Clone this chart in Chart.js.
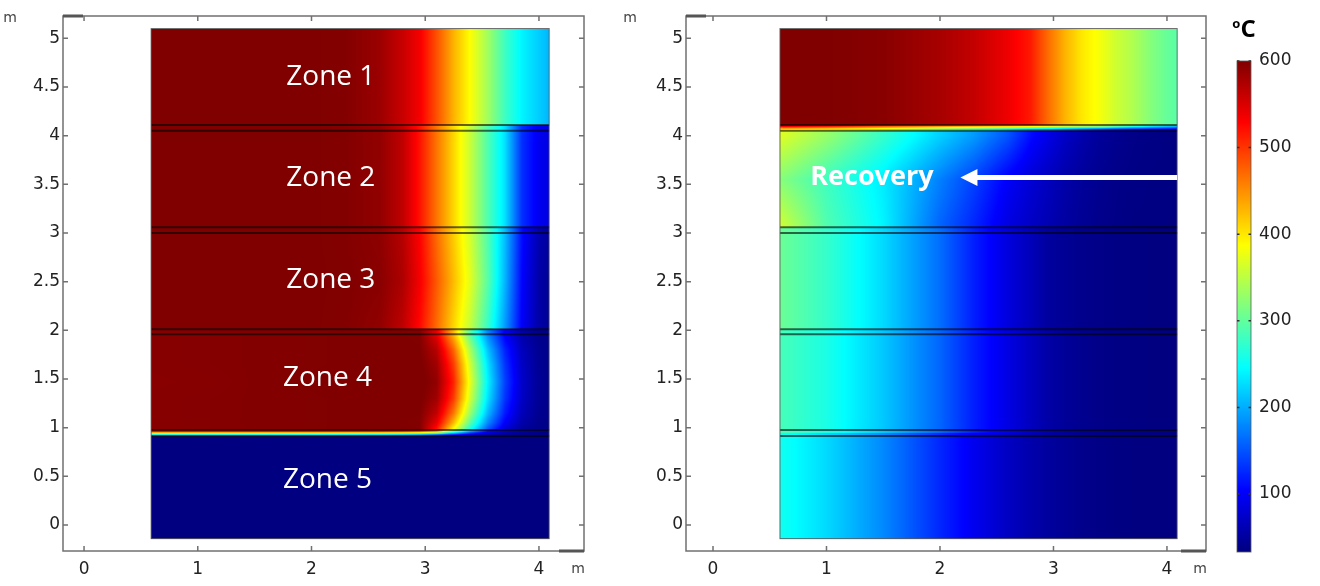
<!DOCTYPE html>
<html>
<head>
<meta charset="utf-8">
<script src="https://cdn.jsdelivr.net/npm/chart.js@4.4.0/dist/chart.umd.min.js"></script>
<style>
    body { margin: 0; background: #fff; }
    #wrap { position: relative; width: 1320px; height: 586px; }
    #wrap canvas { position: absolute; top: 0; }
</style>
</head>
<body>
<div id="wrap">
    <canvas id="leftChart" width="600" height="586" style="left:0"></canvas>
    <canvas id="rightChart" width="600" height="586" style="left:620px"></canvas>
    <canvas id="barChart" width="100" height="586" style="left:1220px"></canvas>
</div>
<script>
// Axis ticks
const xTicks = [0, 1, 2, 3, 4];
const yTicks = [0, 0.5, 1, 1.5, 2, 2.5, 3, 3.5, 4, 4.5, 5];
const barTicks = [100, 200, 300, 400, 500, 600];
const tempMin = 33;
const tempMax = 600;

// Sampling columns (m) shared by every row below
const xCols = [0.59, 1.0, 1.5, 2.0, 2.3, 2.6, 2.8, 2.95, 3.1, 3.25, 3.4, 3.55, 3.7, 3.85, 4.0, 4.09];

// Zone boundary layers (m)
const layerEdges = [4.11, 4.05, 3.06, 3.0, 2.01, 1.96, 0.975, 0.915];

// Left panel temperatures (degC)
const leftZone1 = [600, 600, 600, 600, 598, 585, 560, 535, 485, 430, 385, 335, 280, 240, 218, 205];
const leftZone2 = [600, 600, 600, 600, 598, 590, 565, 520, 465, 410, 355, 290, 230, 130, 95, 88];
const leftZone3Top = [600, 600, 600, 600, 598, 592, 570, 530, 470, 415, 360, 290, 210, 110, 60, 50];
const leftZone3Mid = [600, 600, 600, 600, 599, 595, 575, 535, 480, 425, 370, 295, 205, 105, 55, 45];
const leftZone3Bot = [600, 600, 600, 600, 598, 590, 565, 525, 470, 410, 350, 275, 190, 100, 55, 45];
// zone 4 rows, from y = 0.975 up to y = 1.96
const leftZone4Y = [0.975, 1.05, 1.15, 1.3, 1.47, 1.65, 1.8, 1.9, 1.96];
const leftZone4R0 = [596, 597, 598, 599, 600, 600, 600, 600, 515, 379, 249, 147, 79, 47, 40, 38];
const leftZone4R1 = [596, 597, 598, 599, 600, 600, 600, 598, 542, 426, 292, 180, 101, 57, 40, 38];
const leftZone4R2 = [596, 597, 598, 599, 600, 600, 600, 600, 563, 463, 327, 207, 118, 65, 42, 39];
const leftZone4R3 = [596, 597, 598, 599, 600, 602, 604, 603, 582, 496, 357, 230, 133, 72, 44, 40];
const leftZone4R4 = [595, 596, 598, 600, 602, 606, 608, 606, 590, 510, 370, 240, 140, 75, 45, 40];
const leftZone4R5 = [596, 597, 598, 599, 600, 602, 604, 603, 582, 496, 357, 230, 133, 72, 44, 40];
const leftZone4R6 = [596, 597, 598, 599, 600, 600, 600, 600, 569, 473, 335, 213, 123, 67, 43, 40];
const leftZone4R7 = [596, 597, 598, 599, 600, 600, 600, 599, 553, 445, 309, 193, 109, 61, 41, 40];
const leftZone4R8 = [596, 597, 598, 599, 600, 600, 600, 598, 542, 426, 292, 180, 101, 57, 40, 40];
const leftLayerTop = [560, 560, 560, 558, 556, 552, 545, 530, 480, 330, 200, 110, 70, 50, 40, 36];
const leftLayerBot = [220, 215, 210, 205, 200, 195, 185, 170, 140, 100, 70, 50, 40, 36, 34, 33];
const leftZone5 = [33, 33, 33, 33, 33, 33, 33, 33, 33, 33, 33, 33, 33, 33, 33, 33];

// Right panel temperatures (degC)
const rightZone1 = [600, 600, 595, 578, 562, 538, 515, 470, 430, 400, 383, 360, 343, 320, 302, 295];
const rightLayerTop = [560, 540, 500, 470, 450, 435, 425, 410, 390, 370, 350, 320, 290, 260, 235, 225];
const rightLayerBot = [380, 360, 330, 290, 260, 220, 190, 170, 150, 130, 115, 100, 90, 80, 75, 70];
const rightZone2Top = [370, 330, 275, 220, 190, 150, 110, 90, 72, 58, 48, 42, 38, 36, 35, 35];
const rightZone2Mid = [320, 280, 235, 175, 140, 100, 80, 68, 56, 48, 42, 38, 36, 35, 35, 35];
const rightZone2Bot = [360, 290, 240, 160, 125, 88, 72, 62, 52, 45, 40, 37, 35, 35, 34, 34];
const rightZone3 = [305, 275, 225, 165, 120, 85, 65, 50, 45, 40, 38, 36, 35, 34, 34, 34];
const rightZone4 = [285, 260, 215, 160, 120, 88, 68, 55, 47, 42, 38, 36, 35, 34, 34, 34];
const rightZone5 = [255, 225, 180, 125, 95, 70, 58, 50, 45, 40, 37, 35, 34, 34, 34, 34];

// Labels
const zoneNames = ['Zone 1', 'Zone 2', 'Zone 3', 'Zone 4', 'Zone 5'];
const zoneLabelX = [2.17, 2.17, 2.17, 2.14, 2.14];
const zoneLabelY = [4.6, 3.56, 2.52, 1.51, 0.46];
const recoveryText = 'Recovery';
const recoveryPos = [1.40, 3.57];
const arrowFrom = 4.09;
const arrowTo = 2.18;

// Bands of the field: y range, row heights and the rows
const panels = {
    leftChart: {
        bands: [
            { y0: 4.11, y1: 5.1, ys: [4.6], rows: [leftZone1] },
            { y0: 3.06, y1: 4.11, ys: [3.5], rows: [leftZone2] },
            { y0: 2.01, y1: 3.06, ys: [2.01, 2.5, 3.0], rows: [leftZone3Bot, leftZone3Mid, leftZone3Top] },
            { y0: 0.975, y1: 2.01, ys: leftZone4Y,
              rows: [leftZone4R0, leftZone4R1, leftZone4R2, leftZone4R3, leftZone4R4, leftZone4R5, leftZone4R6, leftZone4R7, leftZone4R8] },
            { y0: 0.915, y1: 0.975, ys: [0.925, 0.965], rows: [leftLayerBot, leftLayerTop] },
            { y0: -0.14, y1: 0.915, ys: [0.4], rows: [leftZone5] }
        ],
        zoneLabels: true
    },
    rightChart: {
        bands: [
            { y0: 4.11, y1: 5.1, ys: [4.6], rows: [rightZone1] },
            { y0: 4.05, y1: 4.11, ys: [4.06, 4.1], rows: [rightLayerBot, rightLayerTop] },
            { y0: 3.06, y1: 4.05, ys: [3.1, 3.55, 4.0], rows: [rightZone2Bot, rightZone2Mid, rightZone2Top] },
            { y0: 2.01, y1: 3.06, ys: [2.5], rows: [rightZone3] },
            { y0: 0.945, y1: 2.01, ys: [1.5], rows: [rightZone4] },
            { y0: -0.14, y1: 0.945, ys: [0.4], rows: [rightZone5] }
        ],
        recovery: true
    }
};

// Jet colormap
function jet(t) {
    const c = v => Math.max(0, Math.min(1, v));
    return [
        Math.round(255 * c(1.5 - Math.abs(4 * t - 3))),
        Math.round(255 * c(1.5 - Math.abs(4 * t - 2))),
        Math.round(255 * c(1.5 - Math.abs(4 * t - 1)))
    ];
}

function locate(arr, v) {
    if (arr.length < 2 || v <= arr[0]) return [0, 0];
    for (let i = 0; i < arr.length - 1; i++) {
        if (v <= arr[i + 1]) return [i, (v - arr[i]) / (arr[i + 1] - arr[i])];
    }
    return [arr.length - 2, 1];
}

function paintBand(ctx, sx, sy, band) {
    const left = Math.round(sx.getPixelForValue(xCols[0]));
    const right = Math.round(sx.getPixelForValue(xCols[xCols.length - 1]));
    const top = Math.round(sy.getPixelForValue(band.y1));
    const bottom = Math.round(sy.getPixelForValue(band.y0));
    const w = right - left, h = bottom - top;
    if (w <= 0 || h <= 0) return;
    const img = ctx.createImageData(w, h);
    const cols = [];
    for (let i = 0; i < w; i++) cols.push(locate(xCols, sx.getValueForPixel(left + i + 0.5)));
    const n = xCols.length;
    for (let j = 0; j < h; j++) {
        const [rj, rf] = locate(band.ys, sy.getValueForPixel(top + j + 0.5));
        const r0 = band.rows[rj];
        const r1 = band.rows[Math.min(rj + 1, band.rows.length - 1)];
        for (let i = 0; i < w; i++) {
            const [ci, cf] = cols[i];
            const c1 = Math.min(ci + 1, n - 1);
            const a = r0[ci] + (r0[c1] - r0[ci]) * cf;
            const b = r1[ci] + (r1[c1] - r1[ci]) * cf;
            const v = a + (b - a) * rf;
            const rgb = jet(Math.max(0, Math.min(1, (v - tempMin) / (tempMax - tempMin))));
            const k = (j * w + i) * 4;
            img.data[k] = rgb[0];
            img.data[k + 1] = rgb[1];
            img.data[k + 2] = rgb[2];
            img.data[k + 3] = 255;
        }
    }
    ctx.putImageData(img, left, top);
}

function drawFrame(ctx, area, sx, sy) {
    ctx.save();
    ctx.strokeStyle = '#707070';
    ctx.lineWidth = 1.5;
    ctx.strokeRect(area.left, area.top, area.right - area.left, area.bottom - area.top);
    ctx.beginPath();
    xTicks.forEach(v => {
        const px = sx.getPixelForValue(v);
        ctx.moveTo(px, area.bottom); ctx.lineTo(px, area.bottom - 5);
        ctx.moveTo(px, area.top); ctx.lineTo(px, area.top + 5);
    });
    yTicks.forEach(v => {
        const py = sy.getPixelForValue(v);
        ctx.moveTo(area.left, py); ctx.lineTo(area.left + 5, py);
        ctx.moveTo(area.right, py); ctx.lineTo(area.right - 5, py);
    });
    ctx.stroke();
    // darker corner pieces
    ctx.strokeStyle = '#555';
    ctx.lineWidth = 3;
    ctx.beginPath();
    ctx.moveTo(area.left, area.top); ctx.lineTo(area.left + 20, area.top);
    ctx.moveTo(area.right - 25, area.bottom); ctx.lineTo(area.right, area.bottom);
    ctx.stroke();
    // unit labels
    ctx.fillStyle = '#444';
    ctx.font = '14px "DejaVu Sans"';
    ctx.textAlign = 'center';
    ctx.textBaseline = 'middle';
    ctx.fillText('m', 10, area.top + 2);
    ctx.fillText('m', area.right - 6, area.bottom + 18);
    ctx.restore();
}

const fieldPlugin = {
    id: 'field',
    beforeDatasetsDraw(chart) {
        const cfg = panels[chart.canvas.id];
        const ctx = chart.ctx;
        const sx = chart.scales.x, sy = chart.scales.y;
        cfg.bands.forEach(b => paintBand(ctx, sx, sy, b));

        const left = sx.getPixelForValue(xCols[0]);
        const right = sx.getPixelForValue(xCols[xCols.length - 1]);
        const top = sy.getPixelForValue(5.1), bottom = sy.getPixelForValue(-0.14);
        ctx.save();
        ctx.strokeStyle = 'rgba(0,0,0,0.6)';
        ctx.lineWidth = 2;
        ctx.beginPath();
        layerEdges.forEach(e => {
            const py = sy.getPixelForValue(e);
            ctx.moveTo(left, py); ctx.lineTo(right, py);
        });
        ctx.stroke();
        ctx.strokeStyle = 'rgba(90,90,90,0.9)';
        ctx.lineWidth = 1;
        ctx.strokeRect(left, top, right - left, bottom - top);

        ctx.fillStyle = '#fff';
        ctx.textAlign = 'center';
        ctx.textBaseline = 'middle';
        if (cfg.zoneLabels) {
            ctx.font = '28px "Open Sans"';
            zoneNames.forEach((name, i) => {
                ctx.fillText(name, sx.getPixelForValue(zoneLabelX[i]), sy.getPixelForValue(zoneLabelY[i]));
            });
        }
        if (cfg.recovery) {
            ctx.font = 'bold 27px "Open Sans"';
            const py = sy.getPixelForValue(recoveryPos[1]);
            ctx.fillText(recoveryText, sx.getPixelForValue(recoveryPos[0]), py);
            const tip = sx.getPixelForValue(arrowTo);
            const tail = sx.getPixelForValue(arrowFrom);
            ctx.strokeStyle = '#fff';
            ctx.lineWidth = 5;
            ctx.beginPath();
            ctx.moveTo(tail, py); ctx.lineTo(tip + 12, py);
            ctx.stroke();
            ctx.beginPath();
            ctx.moveTo(tip, py);
            ctx.lineTo(tip + 17, py - 8.5);
            ctx.lineTo(tip + 17, py + 8.5);
            ctx.closePath();
            ctx.fill();
        }
        ctx.restore();
    },
    afterDraw(chart) {
        drawFrame(chart.ctx, chart.chartArea, chart.scales.x, chart.scales.y);
    }
};

const tickFont = { family: 'DejaVu Sans', size: 17 };

function panelChart(id, xMin, xMax, axisWidth, padRight) {
    const ctx = document.getElementById(id).getContext('2d');
    return new Chart(ctx, {
        type: 'scatter',
        data: { datasets: [{ data: [] }] },
        plugins: [fieldPlugin],
        options: {
            responsive: false,
            animation: false,
            devicePixelRatio: 1,
            layout: { padding: { top: 16, right: padRight, left: 0, bottom: 0 } },
            plugins: { legend: { display: false }, tooltip: { enabled: false } },
            scales: {
                x: {
                    type: 'linear',
                    min: xMin,
                    max: xMax,
                    grid: { display: false, drawTicks: false },
                    border: { display: false },
                    ticks: { color: '#222', font: tickFont, padding: 8, maxRotation: 0, callback: v => String(v) },
                    afterBuildTicks: s => { s.ticks = xTicks.map(v => ({ value: v })); },
                    afterFit: s => { s.height = 35; }
                },
                y: {
                    type: 'linear',
                    min: -0.267,
                    max: 5.229,
                    grid: { display: false, drawTicks: false },
                    border: { display: false },
                    ticks: { color: '#222', font: tickFont, padding: 3, callback: v => String(v) },
                    afterBuildTicks: s => { s.ticks = yTicks.map(v => ({ value: v })); },
                    afterFit: s => { s.width = axisWidth; }
                }
            }
        }
    });
}

const colorBarPlugin = {
    id: 'colorBar',
    beforeDatasetsDraw(chart) {
        const ctx = chart.ctx;
        const a = chart.chartArea;
        const sy = chart.scales.y;
        for (let py = Math.round(a.top); py < Math.round(a.bottom); py++) {
            const v = sy.getValueForPixel(py + 0.5);
            const rgb = jet(Math.max(0, Math.min(1, (v - tempMin) / (tempMax - tempMin))));
            ctx.fillStyle = 'rgb(' + rgb.join(',') + ')';
            ctx.fillRect(a.left, py, a.right - a.left, 1);
        }
        ctx.save();
        ctx.strokeStyle = 'rgba(90,90,90,0.8)';
        ctx.lineWidth = 1;
        ctx.strokeRect(a.left, a.top, a.right - a.left, a.bottom - a.top);
        ctx.strokeStyle = '#333';
        ctx.lineWidth = 1.5;
        ctx.beginPath();
        barTicks.forEach(v => {
            const py = sy.getPixelForValue(v);
            ctx.moveTo(a.left, py); ctx.lineTo(a.left + 2.5, py);
            ctx.moveTo(a.right, py); ctx.lineTo(a.right - 2.5, py);
        });
        ctx.stroke();
        // unit title
        const cx = (a.left + a.right) / 2;
        ctx.fillStyle = '#000';
        ctx.textBaseline = 'alphabetic';
        ctx.textAlign = 'left';
        ctx.font = 'bold 24px "Open Sans"';
        const cw = ctx.measureText('C').width;
        ctx.font = 'bold 13px "Open Sans"';
        const ow = ctx.measureText('o').width;
        const x0 = cx - (cw + ow) / 2;
        ctx.fillText('o', x0, 28);
        ctx.font = 'bold 24px "Open Sans"';
        ctx.fillText('C', x0 + ow, 37);
        ctx.restore();
    }
};

function barChart() {
    const ctx = document.getElementById('barChart').getContext('2d');
    return new Chart(ctx, {
        type: 'scatter',
        data: { datasets: [{ data: [] }] },
        plugins: [colorBarPlugin],
        options: {
            responsive: false,
            animation: false,
            devicePixelRatio: 1,
            layout: { padding: { top: 61, bottom: 34, left: 17, right: 0 } },
            plugins: { legend: { display: false }, tooltip: { enabled: false } },
            scales: {
                x: { display: false },
                y: {
                    type: 'linear',
                    position: 'right',
                    min: tempMin,
                    max: tempMax,
                    grid: { display: false, drawTicks: false },
                    border: { display: false },
                    ticks: { color: '#222', font: tickFont, padding: 8, callback: v => String(v) },
                    afterBuildTicks: s => { s.ticks = barTicks.map(v => ({ value: v })); },
                    afterFit: s => { s.width = 69; }
                }
            }
        }
    });
}

panelChart('leftChart', -0.185, 4.396, 63, 16);
panelChart('rightChart', -0.238, 4.344, 66, 14);
barChart();
</script>
</body>
</html>
